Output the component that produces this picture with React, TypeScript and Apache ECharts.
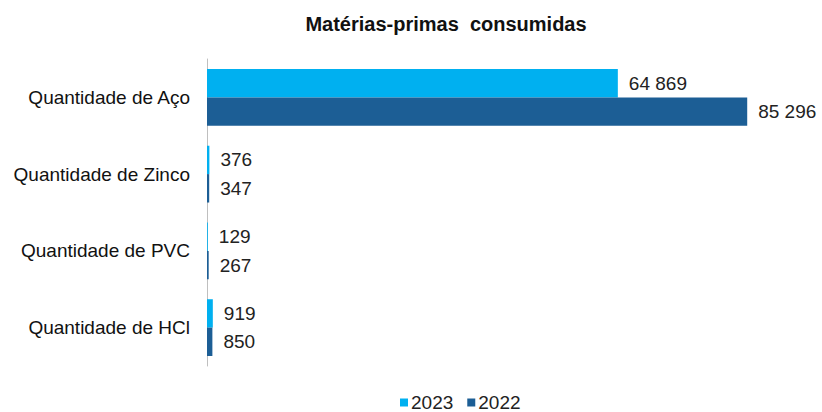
import React, { useEffect, useRef } from "react";
import * as echarts from "echarts";

const categories = ["Quantidade de Aço", "Quantidade de Zinco", "Quantidade de PVC", "Quantidade de HCl"];
const values2023 = [64869, 376, 129, 919];
const values2022 = [85296, 347, 267, 850];
const seriesNames = ["2023", "2022"];

const fmt = (v: number) => String(v).replace(/\B(?=(\d{3})+(?!\d))/g, " ");

export default function App() {
  const ref = useRef<HTMLDivElement>(null);
  useEffect(() => {
    const chart = echarts.init(ref.current!, undefined, { renderer: "svg" });
    const font = "Liberation Sans, Arial, sans-serif";
    const label = {
      show: true,
      position: "right" as const,
      distance: 11,
      color: "#222",
      fontSize: 19,
      fontFamily: font,
      formatter: (p: any) => fmt(p.value),
    };
    chart.setOption({
      animation: false,
      title: {
        text: "Matérias-primas  consumidas",
        left: 441,
        top: 9,
        textAlign: "center",
        textStyle: { fontSize: 20, fontWeight: "bold", color: "#111", fontFamily: font },
      },
      legend: {
        data: seriesNames,
        top: 393,
        left: 400,
        itemWidth: 8,
        itemHeight: 8,
        itemGap: 14,
        icon: "rect",
        padding: 0,
        textStyle: { fontSize: 19, color: "#222", fontFamily: font, padding: [0, 0, 0, -2] },
      },
      grid: { left: 207, right: 45, top: 59, bottom: 46 },
      xAxis: {
        type: "value",
        min: 0,
        max: 90000,
        show: false,
      },
      yAxis: {
        type: "category",
        data: categories,
        inverse: true,
        axisLine: { show: true, lineStyle: { color: "#BFBFBF", width: 1 } },
        axisTick: { show: false },
        axisLabel: { fontSize: 19, color: "#111", margin: 17, fontFamily: font },
      },
      series: [
        {
          name: seriesNames[0],
          type: "bar",
          data: values2023,
          itemStyle: { color: "#00B0F0" },
          barGap: "0%",
          barCategoryGap: "26%",
          label,
        },
        {
          name: seriesNames[1],
          type: "bar",
          data: values2022,
          itemStyle: { color: "#1C5E95" },
          barGap: "0%",
          barCategoryGap: "26%",
          label,
        },
      ],
    });
    return () => chart.dispose();
  }, []);
  return (
    <div
      ref={ref}
      style={{ position: "absolute", left: 0, top: 0, width: 822, height: 412 }}
    />
  );
}
